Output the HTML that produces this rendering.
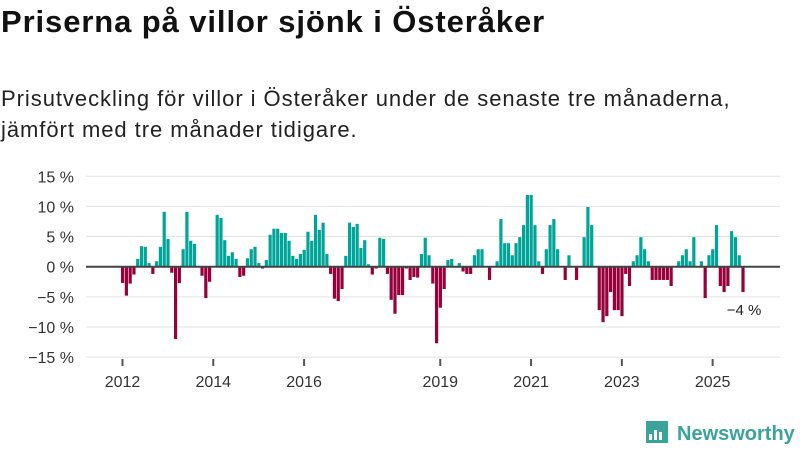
<!DOCTYPE html>
<html><head><meta charset="utf-8">
<style>
body{margin:0;background:#fff;font-family:"Liberation Sans",sans-serif;}
#wrap{position:relative;width:800px;height:450px;overflow:hidden;}
h1{position:absolute;left:1px;top:4px;margin:0;font-size:31px;font-weight:bold;color:#111;letter-spacing:0.9px;}
.sub{position:absolute;left:1px;top:83px;margin:0;font-size:22px;line-height:31px;color:#222;letter-spacing:0.95px;}
svg{position:absolute;left:0;top:0;}
</style></head><body>
<div id="wrap">
<h1>Priserna på villor sjönk i Österåker</h1>
<p class="sub">Prisutveckling för villor i Österåker under de senaste tre månaderna,<br>jämfört med tre månader tidigare.</p>
<svg id="chart" width="800" height="450"></svg>
</div>
<script>
const startYear = 2012;
const yTicks = [15,10,5,0,-5,-10,-15];
const xTickYears = [2012,2014,2016,2019,2021,2023,2025];
const values = [
-2.7,-4.8,-2.8,-1.3,1.3,3.4,3.3,0.6,-1.2,0.9,3.3,9.1,
4.6,-1.0,-12.0,-2.7,2.9,9.1,4.3,3.8,0,-1.5,-5.2,-2.5,
0,8.6,8.1,4.4,1.8,2.4,1.3,-1.7,-1.5,1.4,2.9,3.3,
0.6,-0.3,1.1,5.3,6.3,6.3,5.6,5.6,4.3,1.8,1.3,2.1,
2.8,5.8,4.3,8.6,6.1,7.3,2.1,-1.2,-5.3,-5.7,-3.7,1.8,
7.3,6.6,7.1,3.1,4.4,0.4,-1.3,-0.3,4.8,4.6,-1.2,-5.5,
-7.8,-4.7,-4.7,-0.3,-2.2,-1.7,-1.8,2.1,4.8,1.9,-2.8,-12.7,
-6.8,-3.7,1.1,1.3,0,0.6,-0.8,-1.2,-1.2,1.9,2.9,2.9,
0,-2.2,0,0.9,7.9,3.9,3.9,1.9,3.9,4.9,6.9,11.9,
11.9,6.9,0.9,-1.2,2.9,6.9,7.9,2.9,0,-2.2,1.9,0,
-2.2,0,4.9,9.9,6.9,0,-7.2,-9.2,-8.2,-4.2,-7.2,-7.2,
-8.2,-1.2,-3.2,0.9,1.9,4.9,2.9,0.9,-2.2,-2.2,-2.2,-2.2,
-2.2,-3.2,0,0.9,1.9,2.9,0.9,4.9,0,0.9,-5.2,1.9,
2.9,6.9,-3.2,-4.2,-3.2,5.9,4.9,1.9,-4.2
];
const NS="http://www.w3.org/2000/svg";
const svg=document.getElementById('chart');
const stepM=3.783, x0=121;
function xMonth(i){return x0+i*stepM;}
function xYear(y){return xMonth((y-startYear)*12)+1.5;}
function yScale(v){return 266.7 - v*6.03;}
function mk(t,a){const e=document.createElementNS(NS,t);for(const k in a)e.setAttribute(k,a[k]);svg.appendChild(e);return e;}
yTicks.forEach(v=>{
  if(v!==0){const g=mk('line',{x1:86,x2:780,y1:yScale(v),y2:yScale(v),stroke:'#e2e2e2','stroke-width':1});
  
  }
  const t=mk('text',{x:74,y:yScale(v)+6,'text-anchor':'end','font-size':'16','fill':'#333','font-family':'Liberation Sans, sans-serif'});
  t.textContent=(v<0?'−'+Math.abs(v):v)+' %';
  
  
});
values.forEach((v,i)=>{
  const y=yScale(v),z=yScale(0);
  const r=mk('rect',{x:xMonth(i),width:3.2,y:Math.min(y,z),height:Math.abs(z-y),fill:v>=0?'#00a599':'#98003b'});
  
  
});
const zl=mk('line',{x1:86,x2:780,y1:yScale(0),y2:yScale(0),stroke:'#444','stroke-width':2});


xTickYears.forEach(y=>{
  const x=xYear(y);
  const tk=mk('line',{x1:x,x2:x,y1:359,y2:366,stroke:'#555','stroke-width':2});
  
  
  const t=mk('text',{x:x,y:387,'text-anchor':'middle','font-size':'16','fill':'#333','font-family':'Liberation Sans, sans-serif'});
  t.textContent=y;
  
  
});
const last=values[values.length-1];
const lb=mk('text',{x:744,y:315,'text-anchor':'middle','font-size':'15','fill':'#222','font-family':'Liberation Sans, sans-serif'});
lb.textContent=(last<0?'−':'')+Math.abs(Math.round(last))+' %';


const lg=mk('g',{});


const ic=document.createElementNS(NS,'path');
ic.setAttribute('d','M646 421h22v22h-22z');ic.setAttribute('fill','#3aa39a');lg.appendChild(ic);
[[649,434,3,6],[654,430,3,10],[659,432,3,8]].forEach(b=>{const r=document.createElementNS(NS,'rect');r.setAttribute('x',b[0]);r.setAttribute('y',b[1]);r.setAttribute('width',b[2]);r.setAttribute('height',b[3]);r.setAttribute('fill','#fff');lg.appendChild(r);});
const lt=document.createElementNS(NS,'text');
lt.setAttribute('x',677);lt.setAttribute('y',440);lt.setAttribute('font-size','20');lt.setAttribute('font-weight','bold');lt.setAttribute('fill','#3aa39a');lt.setAttribute('font-family','Liberation Sans, sans-serif');
lt.textContent='Newsworthy';lg.appendChild(lt);
</script>
</body></html>
